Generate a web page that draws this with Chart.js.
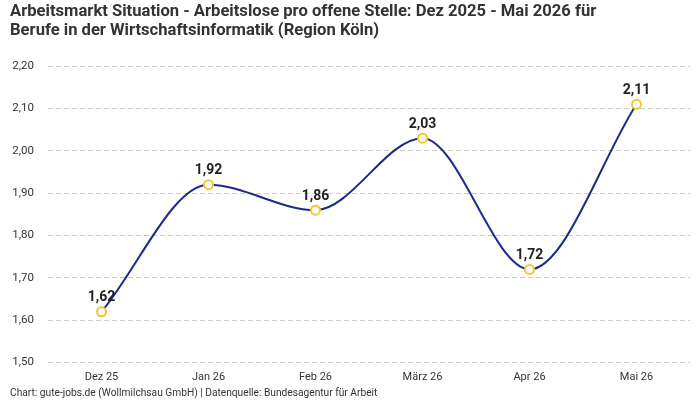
<!DOCTYPE html>
<html><head><meta charset="utf-8">
<script src="https://cdn.jsdelivr.net/npm/chart.js@4/dist/chart.umd.min.js"></script>
<style>html,body{margin:0;padding:0;background:#fff}#wrap{width:700px;height:400px}</style>
</head><body><div id="wrap"><canvas id="c" width="700" height="400"></canvas></div>
<script>
const categories = ["Dez 25","Jan 26","Feb 26","März 26","Apr 26","Mai 26"];
const values = [1.62,1.92,1.86,2.03,1.72,2.11];
const titleLines = ["Arbeitsmarkt Situation - Arbeitslose pro offene Stelle: Dez 2025 - Mai 2026 für","Berufe in der Wirtschaftsinformatik (Region Köln)"];
const footerText = "Chart: gute-jobs.de (Wollmilchsau GmbH) | Datenquelle: Bundesagentur für Arbeit";
const fmt = v => v.toFixed(2).replace('.', ',');
const FONT = "'Roboto',sans-serif";

const labelPlugin = {
  id:'vals',
  afterDatasetsDraw(chart){
    const ctx = chart.ctx;
    const meta = chart.getDatasetMeta(0);
    ctx.save();
    ctx.font = "bold 14px " + FONT;
    ctx.fillStyle = "#222";
    ctx.textAlign = "center";
    ctx.textBaseline = "bottom";
    meta.data.forEach((p,i)=>{ ctx.fillText(fmt(values[i]), p.x, p.y - 7); });
    ctx.restore();
  }
};

new Chart(document.getElementById('c'), {
  type:'line',
  data:{labels:categories, datasets:[{
    data:values, borderColor:'#1c2a8a', borderWidth:2, cubicInterpolationMode:'monotone',
    pointRadius:4.5, pointBackgroundColor:'#fff', pointBorderColor:'#f7c52b', pointBorderWidth:2, fill:false
  }]},
  options:{
    responsive:false, animation:false,
    layout:{padding:{left:10,right:10,top:0,bottom:0}},
    plugins:{
      legend:{display:false}, tooltip:{enabled:false},
      title:{display:true, text:titleLines, align:'start', color:'#333',
        font:{family:FONT, size:16.6, weight:'bold', lineHeight:1.15}, padding:{top:2,bottom:26}},
      subtitle:{display:true, text:footerText, position:'bottom', align:'start', color:'#333',
        font:{family:FONT, size:10.2}, padding:{top:4,bottom:0}}
    },
    scales:{
      x:{offset:true, grid:{display:false}, border:{display:false},
        ticks:{color:'#333', font:{family:FONT, size:11}, padding:0}},
      y:{min:1.5, max:2.2,
        afterFit(s){ s.width = 38; },
        grid:{color:'#cccccc', drawTicks:false},
        border:{display:false, dash:[5,3]},
        ticks:{stepSize:0.1, color:'#333', font:{family:FONT, size:11.5}, padding:14, callback:v=>fmt(v)}}
    }
  },
  plugins:[labelPlugin]
});
</script></body></html>
